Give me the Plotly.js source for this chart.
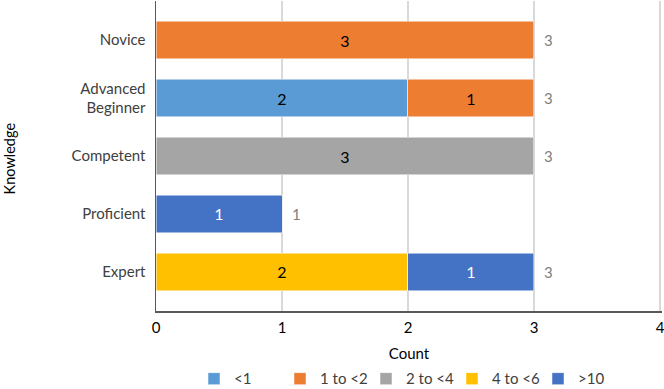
<!DOCTYPE html>
<html>
<head>
<meta charset="utf-8">
<script src="https://cdn.plot.ly/plotly-3.0.1.min.js"></script>
<style>html,body{margin:0;padding:0;background:#fff;}#chart{width:664px;height:389px;}</style>
</head>
<body>
<div id="chart"></div>
<script>
const categories = ['Novice', 'Advanced<br>Beginner', 'Competent', 'Proficient', 'Expert'];
const seriesNames = ['<1', '1 to <2', '2 to <4', '4 to <6', '>10'];
const lessThan1 = [null, 2, null, null, null];
const oneTo2 = [3, 1, null, null, null];
const twoTo4 = [null, null, 3, null, null];
const fourTo6 = [null, null, null, null, 2];
const over10 = [null, null, null, 1, 1];
const xTicks = [0, 1, 2, 3, 4];

const colors = ['#5B9BD5', '#ED7D31', '#A5A5A5', '#FFC000', '#4472C4'];
const textColors = ['#000000', '#000000', '#000000', '#000000', '#ffffff'];
const allSeries = [lessThan1, oneTo2, twoTo4, fourTo6, over10];
const FONT = 'Lato, "Open Sans", sans-serif';

const traces = allSeries.map((vals, i) => ({
  type: 'bar',
  orientation: 'h',
  name: seriesNames[i],
  y: categories,
  x: vals,
  marker: {color: colors[i], line: {color: '#ffffff', width: 0.5}},
  text: vals.map(v => v == null ? '' : String(v)),
  textposition: 'inside',
  insidetextanchor: 'middle',
  textfont: {family: FONT, size: 16, color: textColors[i]},
  hoverinfo: 'skip'
}));

const totals = categories.map((c, j) => allSeries.reduce((s, arr) => s + (arr[j] || 0), 0));
const annotations = categories.map((c, j) => ({
  x: totals[j], y: c, xref: 'x', yref: 'y',
  text: String(totals[j]), showarrow: false,
  xanchor: 'left', xshift: 8,
  font: {family: FONT, size: 15, color: '#808080'}
}));
annotations.push({
  text: 'Knowledge', xref: 'paper', yref: 'paper',
  x: -0.2897, y: 0.4935, textangle: -90, showarrow: false,
  xanchor: 'center', yanchor: 'middle',
  font: {family: FONT, size: 14.5, color: '#000000'}
});

const layout = {
  width: 664, height: 389,
  margin: {l: 156, r: 2, t: 1, b: 78},
  barmode: 'stack',
  bargap: 0.36,
  paper_bgcolor: '#ffffff',
  plot_bgcolor: '#ffffff',
  font: {family: FONT, size: 15, color: '#404040'},
  annotations: annotations,
  xaxis: {
    range: [0, 4.016],
    tickvals: xTicks,
    ticktext: xTicks.map(String),
    showgrid: true,
    gridcolor: '#d9d9d9',
    gridwidth: 1.5,
    zeroline: false,
    showline: true,
    linecolor: '#595959',
    linewidth: 1.5,
    ticks: '',
    ticklabelstandoff: 2,
    ticklabeloverflow: 'allow',
    tickfont: {family: FONT, size: 15, color: '#000000'},
    title: {text: 'Count', font: {family: FONT, size: 15, color: '#000000'}, standoff: 16},
    fixedrange: true
  },
  yaxis: {
    type: 'category',
    categoryorder: 'array',
    categoryarray: categories,
    range: [4.673, -0.673],
    showline: true,
    linecolor: '#595959',
    linewidth: 1.5,
    showgrid: false,
    ticks: '',
    ticklabelstandoff: 6,
    tickfont: {family: FONT, size: 15, color: '#404040'},
    fixedrange: true
  },
  legend: {
    orientation: 'h',
    x: 0.5, xanchor: 'center',
    yref: 'container',
    y: 0.026, yanchor: 'middle',
    font: {family: FONT, size: 15, color: '#404040'},
    traceorder: 'normal',
    entrywidth: 41,
    entrywidthmode: 'pixels'
  },
  showlegend: true
};

Plotly.newPlot('chart', traces, layout, {staticPlot: true, displayModeBar: false});
</script>
</body>
</html>
